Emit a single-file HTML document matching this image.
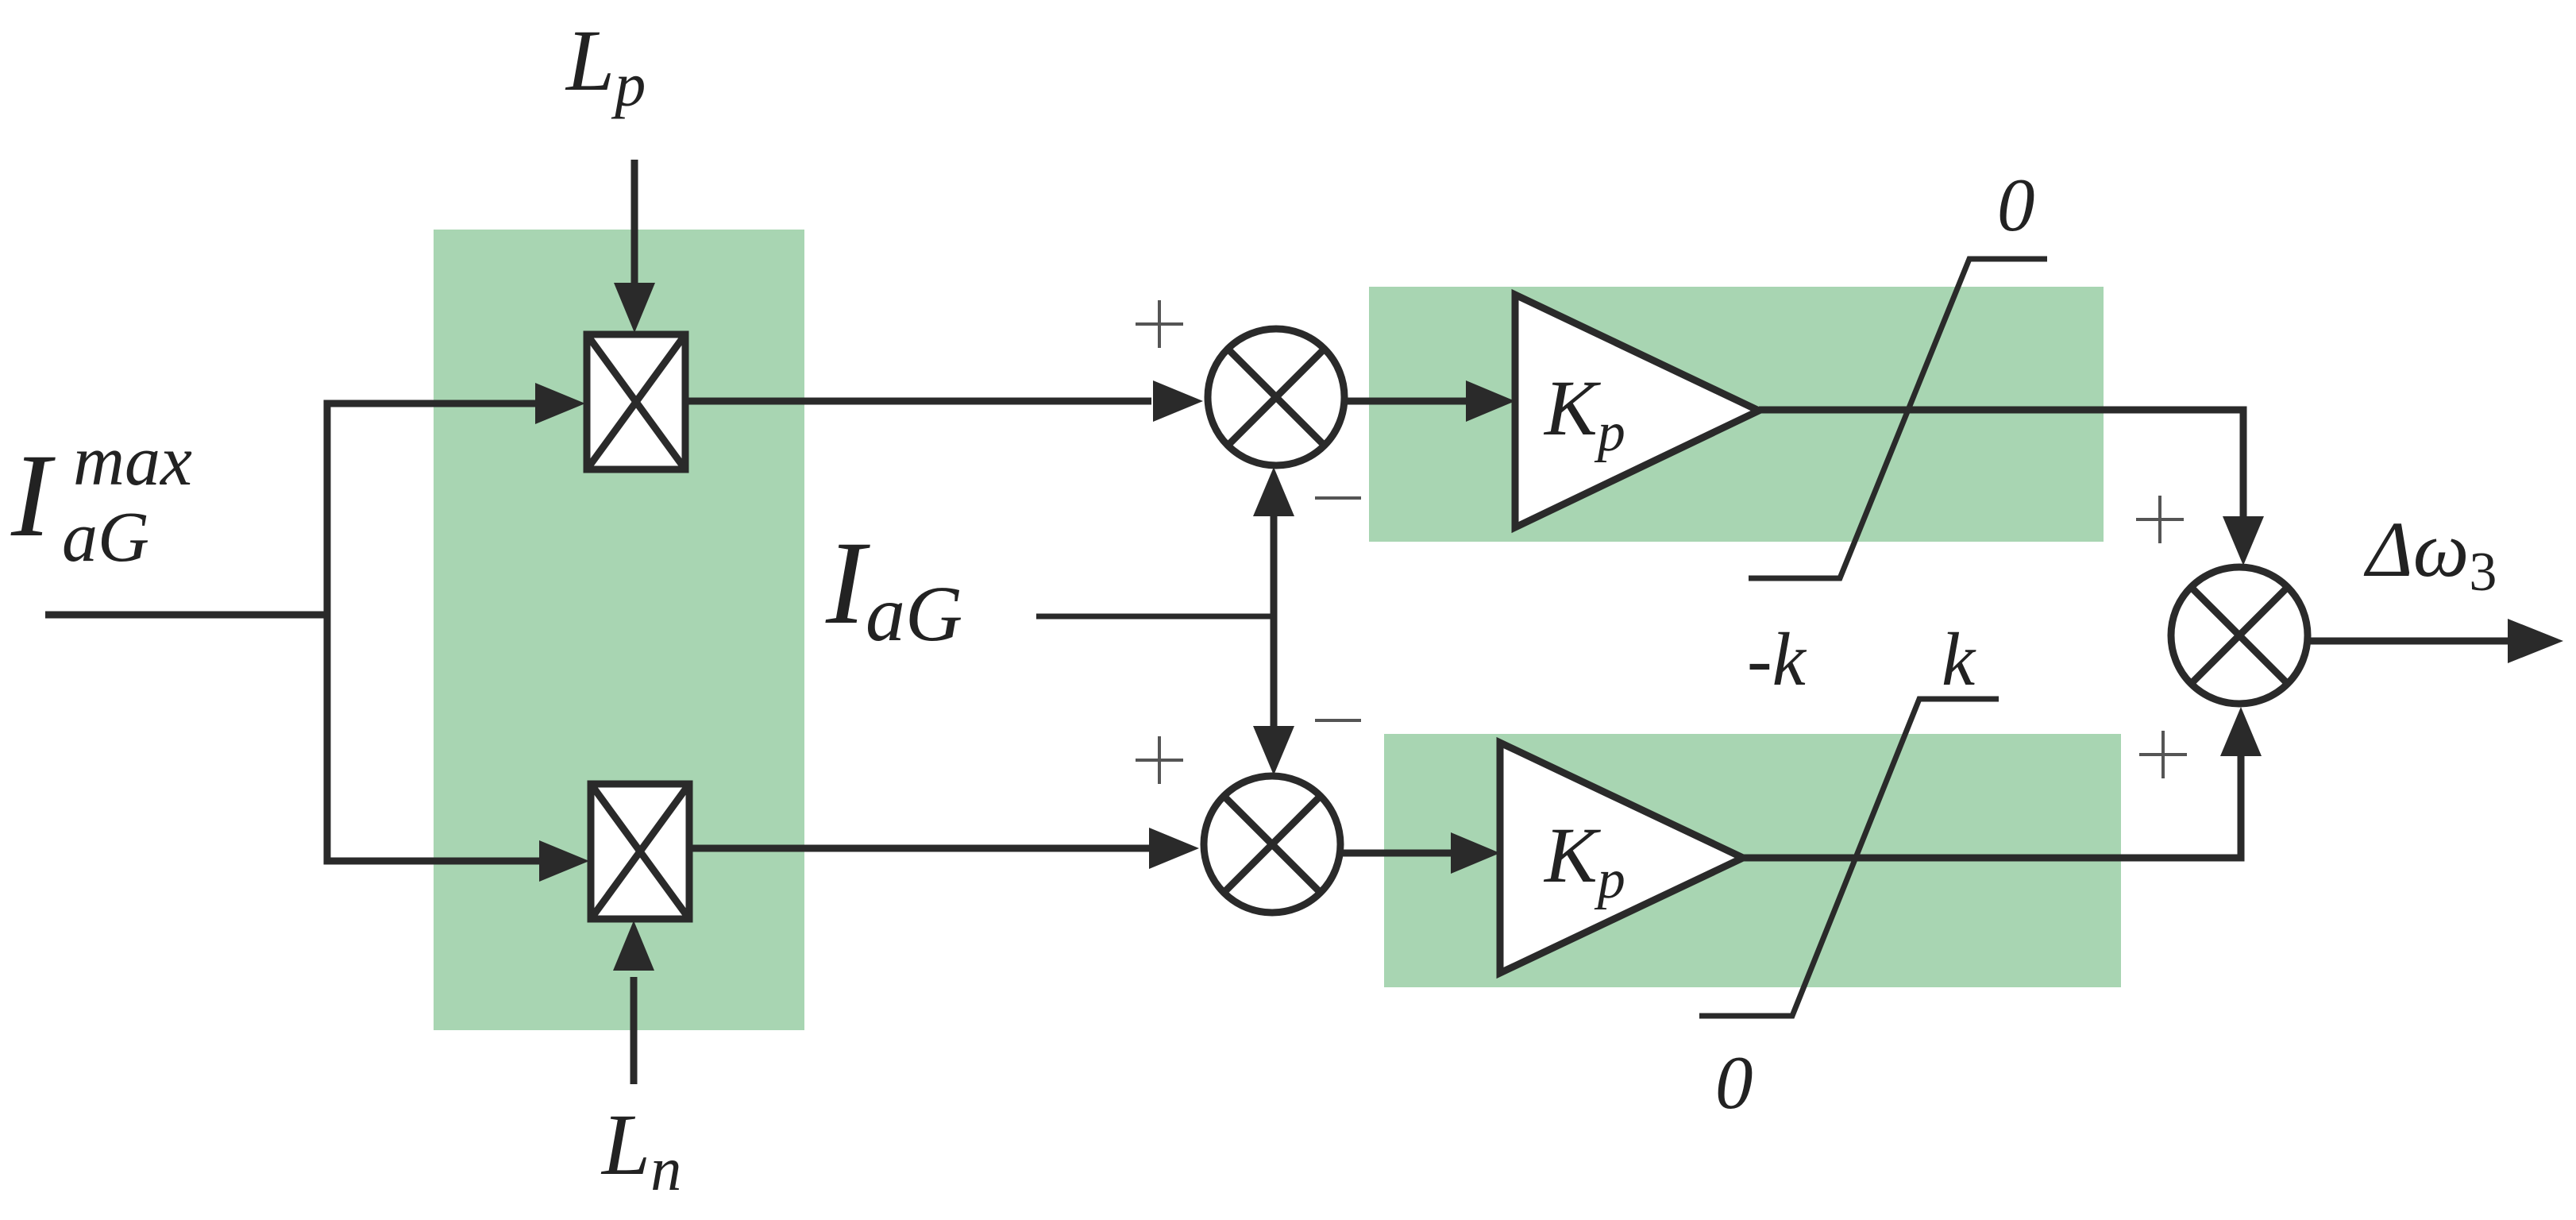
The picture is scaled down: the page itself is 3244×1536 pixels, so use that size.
<!DOCTYPE html>
<html><head><meta charset="utf-8"><style>html,body{margin:0;padding:0;background:#fff}svg{display:block}text{font-family:"Liberation Serif",serif;font-style:italic;fill:#222}</style></head>
<body>
<svg width="3244" height="1536" viewBox="0 0 3244 1536" xmlns="http://www.w3.org/2000/svg">
<rect x="546" y="289" width="467" height="1008" fill="#a8d5b2"/>
<rect x="1724" y="361" width="925" height="321" fill="#a8d5b2"/>
<rect x="1743" y="924" width="928" height="319" fill="#a8d5b2"/>
<g stroke="#2a2a2a" stroke-width="9" fill="none">
<!-- input -->
<polyline points="57,774 412,774"/>
<polyline points="680,508 412,508 412,1084 680,1084"/>
<!-- Lp / Ln -->
<line x1="799" y1="201" x2="799" y2="360"/>
<line x1="798" y1="1365" x2="798" y2="1230"/>
<!-- mult boxes -->
<rect x="739" y="421" width="124" height="170" fill="#fff"/>
<line x1="739" y1="421" x2="863" y2="591"/><line x1="863" y1="421" x2="739" y2="591"/>
<rect x="744" y="987" width="124" height="170" fill="#fff"/>
<line x1="744" y1="987" x2="868" y2="1157"/><line x1="868" y1="987" x2="744" y2="1157"/>
<!-- to sums -->
<line x1="863" y1="505" x2="1450" y2="505"/>
<line x1="868" y1="1068" x2="1450" y2="1068"/>
<!-- sums -->
<circle cx="1607" cy="500" r="86" fill="#fff"/>
<line x1="1546" y1="439" x2="1668" y2="561"/><line x1="1668" y1="439" x2="1546" y2="561"/>
<circle cx="1602" cy="1063" r="86" fill="#fff"/>
<line x1="1541" y1="1002" x2="1663" y2="1124"/><line x1="1663" y1="1002" x2="1541" y2="1124"/>
<!-- IaG -->
<line x1="1305" y1="776" x2="1604" y2="776" stroke-width="7"/>
<line x1="1604" y1="640" x2="1604" y2="920"/>
<!-- to gains -->
<line x1="1693" y1="505" x2="1860" y2="505"/>
<line x1="1688" y1="1074" x2="1840" y2="1074"/>
<polygon points="1908,371 1908,664 2215,517" fill="#fff"/>
<polygon points="1889,935 1889,1225 2195,1080" fill="#fff"/>
<!-- outputs -->
<polyline points="2215,516 2825,516 2825,655"/>
<polyline points="2195,1080 2822,1080 2822,950"/>
<circle cx="2820" cy="800" r="86" fill="#fff"/>
<line x1="2759" y1="739" x2="2881" y2="861"/><line x1="2881" y1="739" x2="2759" y2="861"/>
<line x1="2906" y1="807" x2="3165" y2="807"/>
<!-- saturations -->
<polyline points="2202,728 2317,728 2480,326 2578,326" stroke-width="7"/>
<polyline points="2140,1279 2257,1279 2417,880 2517,880" stroke-width="7"/>
</g>
<g fill="#2a2a2a">
<polygon points="737,508 674,482 674,534"/>
<polygon points="742,1084 679,1058 679,1110"/>
<polygon points="799,419 773,356 825,356"/>
<polygon points="798,1159 772,1222 824,1222"/>
<polygon points="1515,505 1452,479 1452,531"/>
<polygon points="1510,1068 1447,1042 1447,1094"/>
<polygon points="1604,588 1578,650 1630,650"/>
<polygon points="1604,976 1578,914 1630,914"/>
<polygon points="1908,505 1846,479 1846,531"/>
<polygon points="1889,1074 1827,1048 1827,1100"/>
<polygon points="2825,712 2799,650 2851,650"/>
<polygon points="2822,890 2796,952 2848,952"/>
<polygon points="3228,807 3158,779 3158,835"/>
</g>
<g stroke="#555" stroke-width="4">
<line x1="1430" y1="408" x2="1490" y2="408"/><line x1="1460" y1="378" x2="1460" y2="438"/>
<line x1="1430" y1="957" x2="1490" y2="957"/><line x1="1460" y1="927" x2="1460" y2="987"/>
<line x1="1656" y1="627" x2="1714" y2="627"/>
<line x1="1656" y1="907" x2="1714" y2="907"/>
<line x1="2690" y1="654" x2="2750" y2="654"/><line x1="2720" y1="624" x2="2720" y2="684"/>
<line x1="2694" y1="950" x2="2754" y2="950"/><line x1="2724" y1="920" x2="2724" y2="980"/>
</g>
<text x="713" y="113" font-size="110">L<tspan font-size="78" dy="20">p</tspan></text>
<text x="758" y="1478" font-size="110">L<tspan font-size="78" dy="20">n</tspan></text>
<text x="14" y="674" font-size="150">I</text>
<text x="92" y="610" font-size="90">max</text>
<text x="78" y="706" font-size="90">aG</text>
<text x="1040" y="784" font-size="150">I<tspan font-size="100" dy="22">aG</tspan></text>
<text x="1945" y="547" font-size="100">K<tspan font-size="70" dy="20">p</tspan></text>
<text x="1945" y="1110" font-size="100">K<tspan font-size="70" dy="20">p</tspan></text>
<text x="2515" y="290" font-size="95">0</text>
<text x="2160" y="1395" font-size="95">0</text>
<text x="2200" y="862" font-size="95">-k</text>
<text x="2445" y="862" font-size="95">k</text>
<text x="2980" y="725" font-size="100" font-style="normal">Δ<tspan font-style="italic">ω</tspan><tspan font-size="70" font-style="normal" dy="18">3</tspan></text>
</svg>
</body></html>
